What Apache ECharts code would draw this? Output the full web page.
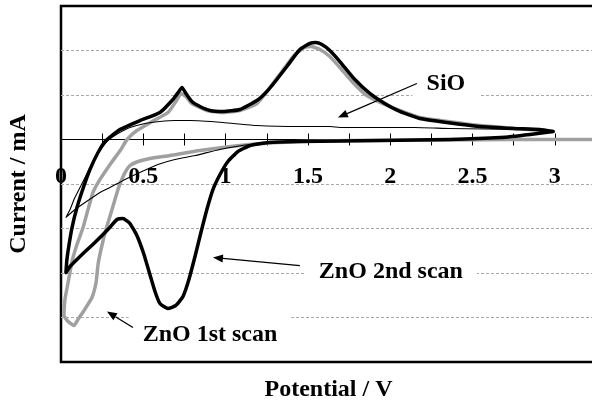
<!DOCTYPE html>
<html>
<head>
<meta charset="utf-8">
<script src="https://cdn.jsdelivr.net/npm/echarts@6/dist/echarts.min.js"></script>
<style>
  html, body { margin: 0; padding: 0; background: #fff; }
  #chart { width: 592px; height: 402px; }
</style>
</head>
<body>
<div id="chart"></div>
<script>
// Cyclic voltammograms: [potential (V), current (mA)] in recorded order
const zno1stScan = [
  [3.25,0],[2.744,0],[2.362,-0.006],[1.755,-0.011],[1.451,-0.022],[1.148,-0.056],[0.844,-0.124],
  [0.662,-0.18],[0.54,-0.213],[0.468,-0.247],[0.419,-0.292],[0.389,-0.371],[0.364,-0.472],
  [0.346,-0.562],[0.31,-0.787],[0.273,-1.011],[0.243,-1.236],[0.225,-1.404],[0.213,-1.607],
  [0.188,-1.775],[0.14,-1.921],[0.103,-2.022],[0.079,-2.09],[0.043,-2.045],[0.018,-1.978],
  [0.024,-1.798],[0.043,-1.607],[0.067,-1.371],[0.097,-1.18],[0.134,-0.989],[0.164,-0.787],
  [0.194,-0.596],[0.237,-0.449],[0.298,-0.281],[0.364,-0.112],[0.401,0],[0.461,0.101],
  [0.553,0.202],[0.65,0.303],[0.698,0.427],[0.729,0.517],[0.759,0.483],[0.795,0.404],
  [0.886,0.326],[0.984,0.303],[1.087,0.326],[1.19,0.404],[1.269,0.584],[1.342,0.764],
  [1.421,0.955],[1.481,1.034],[1.518,1.045],[1.573,1.011],[1.633,0.933],[1.694,0.809],
  [1.773,0.64],[1.858,0.494],[1.955,0.404],[2.058,0.326],[2.18,0.247],[2.544,0.157],[2.99,0.09]
];

const zno2ndScan = [
  [2.99,0.09],[2.85,0.056],[2.67,0.022],[2.36,0],[1.94,-0.011],[1.45,-0.022],[1.26,-0.034],
  [1.15,-0.067],[1.075,-0.135],[1.014,-0.247],[0.966,-0.393],[0.923,-0.562],[0.886,-0.787],
  [0.85,-1.045],[0.814,-1.315],[0.777,-1.573],[0.741,-1.764],[0.698,-1.865],[0.65,-1.899],
  [0.601,-1.843],[0.571,-1.708],[0.54,-1.517],[0.504,-1.292],[0.461,-1.079],[0.419,-0.944],
  [0.376,-0.888],[0.34,-0.899],[0.285,-1.011],[0.206,-1.157],[0.128,-1.292],[0.055,-1.427],
  [0.03,-1.494],[0.036,-1.348],[0.049,-1.18],[0.067,-0.989],[0.097,-0.764],[0.14,-0.517],
  [0.176,-0.337],[0.225,-0.146],[0.273,-0.011],[0.358,0.112],[0.48,0.213],[0.601,0.303],
  [0.68,0.449],[0.716,0.539],[0.735,0.584],[0.759,0.517],[0.795,0.427],[0.844,0.371],
  [0.905,0.326],[0.984,0.315],[1.087,0.337],[1.19,0.438],[1.239,0.517],[1.287,0.618],
  [1.372,0.82],[1.451,1.011],[1.512,1.079],[1.548,1.09],[1.585,1.067],[1.633,1.0],
  [1.694,0.876],[1.785,0.674],[1.876,0.517],[1.967,0.404],[2.058,0.315],[2.18,0.236],
  [2.344,0.191],[2.544,0.146],[2.744,0.124],[2.908,0.112],[2.99,0.09]
];

const sioScan = [
  [2.99,0.09],[2.787,0.045],[2.544,0.011],[2.362,0],[1.755,-0.011],[1.39,-0.022],[1.148,-0.056],
  [0.965,-0.112],[0.814,-0.18],[0.692,-0.225],[0.589,-0.281],[0.492,-0.36],[0.389,-0.449],
  [0.298,-0.539],[0.237,-0.596],[0.146,-0.708],[0.085,-0.787],[0.03,-0.876],
  [0.055,-0.787],[0.079,-0.674],[0.103,-0.584],[0.128,-0.494],[0.164,-0.36],[0.206,-0.202],
  [0.249,-0.09],[0.285,-0.011],[0.346,0.067],[0.419,0.135],[0.51,0.18],[0.601,0.202],
  [0.692,0.213],[0.783,0.213],[0.984,0.191],[1.19,0.157],[1.451,0.146],[1.633,0.146],
  [1.694,0.135],[2.149,0.135],[2.362,0.124],[2.787,0.112],[2.99,0.09]
];

// Axis ranges and tick spacing
const potentialRange = [0, 3.25];
const potentialStep = 0.25;
const currentRange = [-2.5, 1.5];
const currentStep = 0.5;

// Callouts: label position, arrow start and arrow tip, all in data units
const callouts = [
  { text: 'SiO',          at: [2.338, 0.63],   from: [2.162, 0.629],  to: [1.682, 0.247] },
  { text: 'ZnO 2nd scan', at: [2.004, -1.483], from: [1.451, -1.416], to: [0.923, -1.326] },
  { text: 'ZnO 1st scan', at: [0.905, -2.191], from: [0.437, -2.112], to: [0.279, -1.933] }
];

const FONT = '"Liberation Serif", "Times New Roman", serif';
const titleStyle = { color: '#000', fontFamily: FONT, fontWeight: 'bold', fontSize: 24 };

const chart = echarts.init(document.getElementById('chart'), null, { renderer: 'canvas' });

function curve(name, data, color, width) {
  return {
    name, type: 'line', data, xAxisIndex: 0, yAxisIndex: 0,
    showSymbol: false, symbol: 'none', smooth: 0.15,
    lineStyle: { color, width, join: 'round', cap: 'round' },
    emphasis: { disabled: true }, z: 5
  };
}

function potentialAxis(extra) {
  return Object.assign({
    type: 'value', min: potentialRange[0], max: potentialRange[1], interval: potentialStep,
    position: 'bottom', splitLine: { show: false }
  }, extra);
}

function currentAxis(extra) {
  return Object.assign({
    type: 'value', min: currentRange[0], max: currentRange[1], interval: currentStep,
    position: 'left', axisLine: { show: false, onZero: false },
    axisTick: { show: false }, axisLabel: { show: false }
  }, extra);
}

chart.setOption({
  animation: false,
  grid: {
    left: 61, top: 6, width: 535, height: 356,
    outerBoundsMode: 'none', containLabel: false,
    show: true, borderColor: '#000', borderWidth: 2.5, backgroundColor: 'transparent'
  },
  xAxis: [
    // zero line with downward ticks
    potentialAxis({
      axisLine: { onZero: true, onZeroAxisIndex: 0, lineStyle: { color: '#000', width: 1 } },
      axisTick: { show: true, inside: false, length: 6, lineStyle: { color: '#000', width: 1 } },
      axisLabel: { show: false }
    }),
    // upward half of the crossing ticks
    potentialAxis({
      axisLine: { onZero: true, onZeroAxisIndex: 1, lineStyle: { color: '#000', width: 1 } },
      axisTick: { show: true, inside: true, length: 6, lineStyle: { color: '#000', width: 1 } },
      axisLabel: { show: false }
    }),
    // potential labels just below the zero line, and the axis title
    potentialAxis({
      axisLine: { show: false, onZero: false },
      axisTick: { show: false },
      axisLabel: {
        margin: -197, color: '#000', fontFamily: FONT, fontWeight: 'bold', fontSize: 24,
        formatter: v => (Math.abs(v * 2 - Math.round(v * 2)) < 1e-6 ? String(v) : '')
      },
      name: 'Potential / V', nameLocation: 'middle', nameGap: 16, nameTextStyle: titleStyle,
      nameMoveOverlap: false
    })
  ],
  yAxis: [
    currentAxis({
      splitLine: {
        show: true, showMinLine: false, showMaxLine: false,
        lineStyle: { color: '#a9a9a9', width: 1, type: [3, 2] }
      },
      name: 'Current / mA', nameLocation: 'middle', nameRotate: 90, nameGap: 30,
      nameTextStyle: titleStyle
    }),
    currentAxis({ show: false, splitLine: { show: false } })
  ],
  series: [
    curve('ZnO 1st scan', zno1stScan, '#a0a0a0', 3.5),
    curve('ZnO 2nd scan', zno2ndScan, '#000000', 3.5),
    curve('SiO', sioScan, '#000000', 1.1)
  ]
});

// Callout labels with white boxes and arrows, placed through the axis scales
function toPx(p) { return chart.convertToPixel({ xAxisIndex: 0, yAxisIndex: 0 }, p); }

const graphics = [];
callouts.forEach(c => {
  const a = toPx(c.from), b = toPx(c.to), t = toPx(c.at);
  const ang = Math.atan2(b[1] - a[1], b[0] - a[0]);
  const L = 10, W = 4;
  const base = [b[0] - L * Math.cos(ang), b[1] - L * Math.sin(ang)];
  const nx = -Math.sin(ang), ny = Math.cos(ang);
  graphics.push({
    type: 'text', z: 100,
    style: {
      text: c.text, x: t[0], y: t[1], align: 'center', verticalAlign: 'middle',
      font: 'bold 24px ' + FONT, fill: '#000',
      backgroundColor: '#fff', padding: [6, 14]
    }
  });
  graphics.push({
    type: 'line', z: 101,
    shape: { x1: a[0], y1: a[1], x2: base[0], y2: base[1] },
    style: { stroke: '#000', lineWidth: 1.3 }
  });
  graphics.push({
    type: 'polygon', z: 101,
    shape: { points: [b, [base[0] + W * nx, base[1] + W * ny], [base[0] - W * nx, base[1] - W * ny]] },
    style: { fill: '#000' }
  });
});
chart.setOption({ graphic: graphics });
</script>
</body>
</html>
